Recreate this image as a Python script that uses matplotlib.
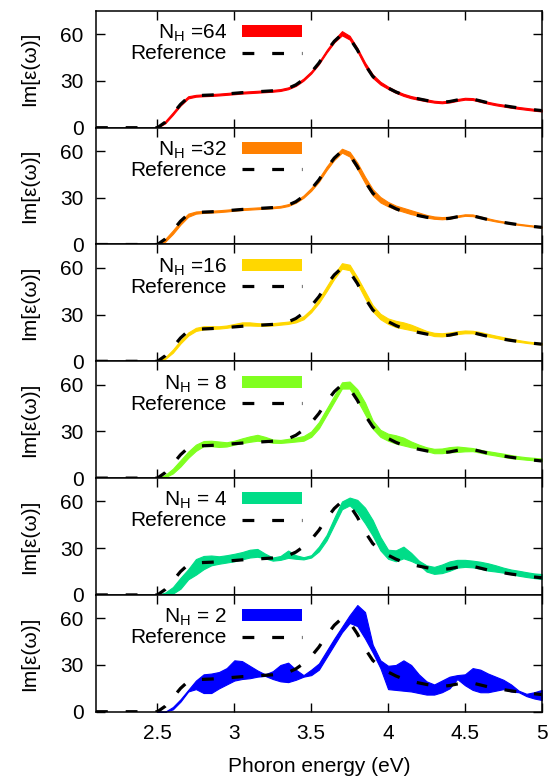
import numpy as np
import matplotlib
matplotlib.use("Agg")
import matplotlib.pyplot as plt
from matplotlib.patches import Patch
from matplotlib.lines import Line2D

plt.rcParams['font.family'] = ['Liberation Sans', 'DejaVu Sans']
plt.rcParams['mathtext.fontset'] = 'custom'
plt.rcParams['mathtext.rm'] = 'Liberation Sans'

# photon energy grid (eV), 2.50 ... 5.00
energy = np.round(np.arange(2.5, 5.0001, 0.05), 2)

# reference spectrum (starts at 2.1 eV with zero)
ref_start = [2.1]
reference = [0, 3.5, 9, 15, 19.5, 20.5, 20.8, 21.0, 21.3, 21.7,
             22.1, 22.5, 22.8, 23.1, 23.4, 23.7, 24.2, 25.3, 27.5, 31.0,
             35.5, 41.5, 49.0, 55.5, 60.0, 57.5, 50.0, 40.5, 33.0, 28.5,
             25.5, 23.0, 21.0, 19.5, 18.5, 17.5, 16.7, 16.3, 16.8, 17.8,
             18.6, 18.4, 17.2, 16.0, 15.0, 14.2, 13.4, 12.7, 12.1, 11.5,
             11.0]

# bands (upper / lower) for each N_H
up_64 = [0, 4.2, 9.8, 15.8, 20.2, 21.1, 21.4, 21.6, 21.9, 22.3,
         22.7, 23.1, 23.4, 23.7, 24.0, 24.3, 24.8, 25.9, 28.1, 31.6,
         36.2, 42.2, 49.8, 56.5, 62.0, 59.0, 51.2, 41.8, 34.2, 29.5,
         26.4, 23.8, 21.8, 20.3, 19.2, 18.2, 17.3, 16.9, 17.4, 18.4,
         19.2, 19.0, 17.8, 16.6, 15.6, 14.8, 14.0, 13.3, 12.7, 12.1,
         11.6]
lo_64 = [0, 2.8, 8.2, 14.2, 18.8, 19.9, 20.2, 20.4, 20.7, 21.1,
         21.5, 21.9, 22.2, 22.5, 22.8, 23.1, 23.6, 24.7, 26.8, 30.2,
         34.8, 40.8, 48.2, 54.8, 59.3, 56.6, 49.0, 39.5, 32.0, 27.7,
         24.9, 22.4, 20.4, 18.9, 17.9, 16.9, 16.1, 15.7, 16.2, 17.2,
         18.0, 17.8, 16.6, 15.4, 14.4, 13.6, 12.8, 12.1, 11.5, 10.9,
         10.4]

up_32 = [0, 3.5, 9, 15, 19.8, 21.2, 21.5, 21.7, 22.0, 22.4,
         22.8, 23.2, 23.5, 23.8, 24.0, 24.3, 24.8, 25.9, 28.0, 31.5,
         36.3, 42.5, 50.0, 56.5, 61.5, 59.5, 52.5, 43.5, 35.5, 30.5,
         27.3, 25.0, 23.5, 22.0, 20.5, 19.0, 18.0, 17.6, 17.8, 18.6,
         19.4, 19.3, 18.0, 16.8, 15.7, 14.8, 14.0, 13.3, 12.7, 12.1,
         11.6]
lo_32 = [0, 1.8, 6.8, 12.8, 17.8, 19.8, 20.3, 20.5, 20.8, 21.2,
         21.7, 22.1, 22.4, 22.7, 23.0, 23.3, 23.7, 24.7, 26.8, 30.0,
         34.5, 40.3, 47.8, 54.3, 59.0, 56.5, 48.5, 39.5, 31.5, 27.0,
         24.5, 22.5, 21.0, 19.5, 18.5, 17.3, 16.5, 16.2, 16.6, 17.6,
         18.4, 18.2, 17.0, 15.8, 14.8, 14.0, 13.2, 12.6, 12.0, 11.4,
         10.9]

up_16 = [0, 2.5, 7.5, 13.5, 18.5, 21.5, 22.5, 22.5, 22.5, 23.0,
         24.0, 25.0, 25.0, 24.5, 24.2, 24.5, 25.0, 25.5, 26.5, 29.0,
         33.5, 40.0, 48.0, 56.0, 63.0, 62.0, 54.0, 45.0, 36.0, 30.5,
         27.5, 26.0, 25.0, 23.5, 21.5, 19.5, 18.3, 18.0, 18.5, 19.3,
         19.8, 19.6, 18.8, 17.6, 16.5, 15.5, 14.5, 13.6, 12.8, 12.2,
         11.7]
lo_16 = [0, 1.5, 5.5, 11.5, 16.5, 19.5, 20.5, 20.8, 21.0, 21.5,
         22.3, 23.0, 23.0, 22.8, 22.8, 23.0, 23.5, 24.0, 25.0, 27.0,
         31.5, 37.5, 45.0, 53.0, 59.5, 58.5, 50.0, 40.5, 32.0, 27.0,
         24.0, 22.0, 21.0, 20.0, 19.0, 17.5, 16.2, 16.0, 16.5, 17.5,
         18.0, 18.0, 17.0, 16.0, 15.0, 14.0, 13.2, 12.5, 11.8, 11.2,
         10.8]

up_8 = [0, 2, 6, 11.5, 17, 21.5, 23.8, 24, 23.5, 23,
        24, 25.5, 26.8, 27.8, 26.5, 24.8, 24.5, 25.2, 26, 27,
        30, 36, 44.5, 53, 61.5, 62, 57, 48.5, 37, 31,
        28.5, 27.5, 26, 23.5, 21.5, 19.8, 18.8, 19, 19.9, 20.3,
        19.8, 19.3, 18.2, 17.3, 16.5, 15.7, 14.8, 14, 13.4, 13,
        12.6]
lo_8 = [0, 0.5, 3, 7.5, 13, 17.5, 20.5, 20.5, 20, 20.3,
        21.5, 22.5, 23.3, 24, 23.5, 22.7, 22.6, 23, 23.5, 24,
        26.5, 32, 40.5, 49, 57.5, 57.5, 50, 41, 31.7, 26.5,
        24, 22.2, 21, 19.8, 19, 17.3, 16, 16, 16.6, 16.8,
        17.2, 17.3, 16.3, 15.3, 14.5, 13.6, 12.8, 12.3, 11.8, 11.4,
        11.1]

up_4 = [0, 1.5, 5, 11, 16.5, 23, 25, 25.3, 24.8, 25.5,
        26.4, 27.5, 29, 29.5, 26.5, 24, 25, 28.5, 25.5, 24.2,
        25.5, 31, 38.5, 49.5, 60, 62.5, 61, 56, 48, 37.2,
        29, 28.6, 31, 27, 22, 19, 18, 19.5, 21.5, 22.5,
        22.5, 22, 21.3, 20.3, 19, 17.5, 16.3, 15.5, 14.6, 13.8,
        13.4]
lo_4 = [0, 0, 0.8, 4, 10, 13, 16.5, 19, 20, 20.8,
        21.6, 22.8, 24, 24.5, 23.5, 22, 22.5, 23.8, 23.2, 22.8,
        24, 28, 35, 45, 55, 57.5, 53, 46, 38, 28.6,
        23.2, 21.6, 23.5, 21.8, 19.5, 15, 13.5, 14, 15.5, 17.5,
        18, 17.7, 16.8, 15.6, 15, 14.3, 13.3, 12.3, 11.5, 10.8,
        10.2]

up_2 = [0, 0, 3, 8, 14, 20, 24, 24.5, 25.5, 28,
        33, 32.5, 29.5, 26.5, 24, 26, 30, 31.5, 27, 23.5,
        27, 31, 39, 47, 54.5, 62, 68.5, 64, 43, 33,
        29.5, 30, 33, 30, 24, 19.5, 17.5, 20, 22.5, 23.5,
        24, 28, 27, 24.5, 22.5, 20.5, 17.5, 13.5, 11.5, 12.5,
        14]
lo_2 = [0, 0, 1.5, 6.5, 13, 14.5, 12, 12, 15, 17.5,
        20, 21, 21.5, 22.5, 23, 21, 19.5, 19, 20.5, 22.5,
        23.5, 27, 35, 43, 51, 57, 55, 47, 38, 28,
        14.5, 14, 13.5, 13, 12, 11, 11, 12.5, 15, 21,
        17, 14, 12.5, 12.5, 13.5, 14.5, 13, 12.5, 10, 8.5,
        7.5]

labels = ["N$_\\mathregular{H}$ =64", "N$_\\mathregular{H}$ =32",
          "N$_\\mathregular{H}$ =16", "N$_\\mathregular{H}$ = 8",
          "N$_\\mathregular{H}$ = 4", "N$_\\mathregular{H}$ = 2"]
uppers = [up_64, up_32, up_16, up_8, up_4, up_2]
lowers = [lo_64, lo_32, lo_16, lo_8, lo_4, lo_2]
colors = ['#ff0000', '#ff8000', '#ffd700', '#80ff20', '#00dd88', '#0000ff']

ref_x = np.concatenate([ref_start, energy])
ref_y = [0] + reference
dash = (3.7, 5.6)

fig = plt.figure(figsize=(5.58, 7.78), dpi=100)
axes = fig.subplots(6, 1, sharex=True)
fig.subplots_adjust(left=0.172, right=0.971, top=0.986, bottom=0.0852, hspace=0)

for ax, lab, up, lo, c in zip(axes, labels, uppers, lowers, colors):
    ax.fill_between(energy, lo, up, facecolor=c, edgecolor=c, lw=0.8)
    ax.plot(ref_x, ref_y, color='k', lw=2.3, dashes=dash)
    ax.set_xlim(2.1, 5.0)
    ax.set_ylim(0, 75)
    ax.set_yticks([0, 30, 60])
    ax.set_xticks([2.5, 3, 3.5, 4, 4.5, 5])
    ax.set_xticklabels(['2.5', '3', '3.5', '4', '4.5', '5'])
    ax.tick_params(direction='in', top=True, right=True, length=6.5,
                   width=1, labelsize=15, pad=9)
    for s in ax.spines.values():
        s.set_linewidth(1.1)
    ax.set_ylabel('Im[ε(ω)]', fontsize=15)
    ax.yaxis.set_label_coords(-0.128, 0.5)
    handles = [Patch(facecolor=c, edgecolor='none'),
               Line2D([], [], color='k', lw=2.3, dashes=dash)]
    ax.legend(handles, [lab, 'Reference'], loc='upper right',
              bbox_to_anchor=(0.462, 0.90), frameon=False, markerfirst=False,
              handlelength=2.9, handleheight=0.5, handletextpad=0.7,
              labelspacing=0.0, borderpad=0, borderaxespad=0, fontsize=15)

axes[-1].set_xlabel('Phoron energy (eV)', fontsize=15, labelpad=10)

fig.savefig('out.png', dpi=100)
